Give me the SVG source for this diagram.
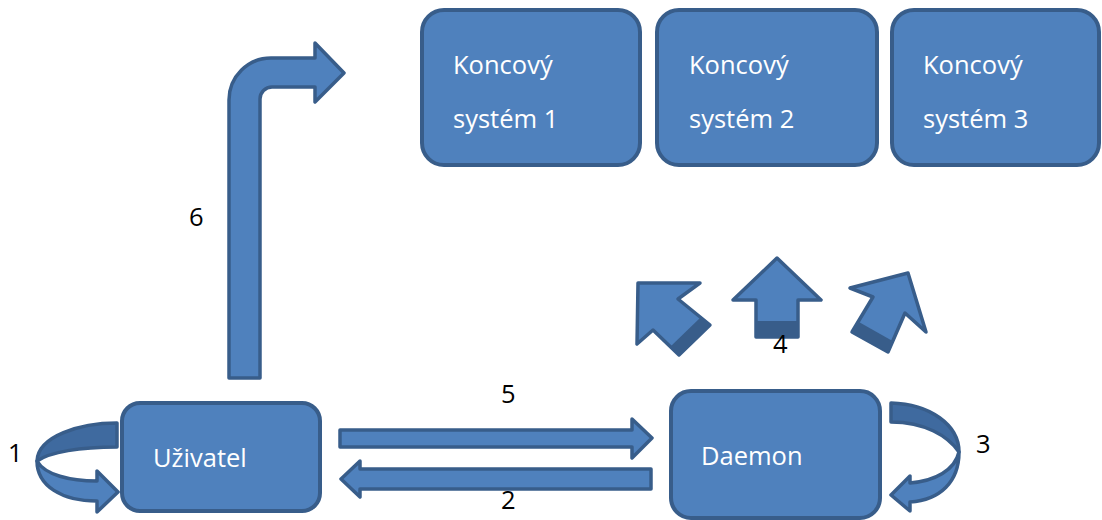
<svg xmlns="http://www.w3.org/2000/svg" width="1102" height="520" viewBox="0 0 1102 520">
  <style>
    .box { fill: #4f81bd; stroke: #385d8a; stroke-width: 4; }
    .arrow { fill: #4f81bd; stroke: #385d8a; stroke-width: 3.5; stroke-linejoin: round; }
    .back { fill: #3f6a9f; stroke: #385d8a; stroke-width: 3.5; stroke-linejoin: round; }
    .depth { fill: #385d8a; }
    .label { font-family: "Open Sans", "Liberation Sans", sans-serif; font-size: 25.5px; fill: #ffffff; }
    .num { font-family: "Open Sans", "Liberation Sans", sans-serif; font-size: 25.5px; fill: #000000; }
  </style>
  <rect width="1102" height="520" fill="#ffffff"/>

  <g id="connectors">
    <!-- 6: bent arrow from Uživatel up towards the end systems -->
    <path class="arrow" d="M229,378 L229,100 A42,42 0 0 1 271,58 L315,58 L315,43 L344,73 L315,102 L315,87 L272,87 A12,12 0 0 0 260,99 L260,378 Z"/>
    <!-- 5: Uživatel to Daemon -->
    <path class="arrow" d="M340,430 L632,430 L632,419 L652,438 L632,458 L632,447 L340,447 Z"/>
    <!-- 2: Daemon back to Uživatel -->
    <path class="arrow" d="M651,469 L360,469 L360,461 L341,479 L360,497 L360,489 L651,489 Z"/>
    <!-- 1: loop on Uživatel -->
    <path class="back" d="M117,423 C80,423 38,436 37,461 C50,452 80,447 117,447 Z"/>
    <path class="arrow" d="M37,461 C37,486 62,501 97,501 L97,512 L118,492 L97,471 L97,481 C70,481 45,475 37,461 Z"/>
    <!-- 3: loop on Daemon -->
    <path class="back" d="M891,403 C930,404 959,425 959,452 C948,436 925,422 891,422 Z"/>
    <path class="arrow" d="M959,452 C959,482 940,500 910,502 L910,511 L891,495 L910,476 L910,483 C935,481 955,470 959,452 Z"/>
    <!-- 4: three arrows from Daemon to the end systems -->
    <polygon class="arrow" points="638,283 700,283 678,299 710,325 679,355 653,330 637,344"/>
    <polygon class="depth" points="710,325 679,355 670.5,346.5 701.5,316.5"/>
    <polygon class="arrow" points="777,258 821,300 798,300 798,337 756,337 756,300 733,300"/>
    <rect class="depth" x="756" y="321" width="42" height="16"/>
    <polygon class="arrow" points="850,288 908,273 926,332 905,313 888,352 852,332 873,297"/>
    <polygon class="depth" points="851.7,331.7 888.3,352.3 893,341.3 858,321.5"/>
  </g>

  <g id="node-koncovy-1">
    <rect class="box" x="422" y="10" width="218" height="155" rx="22"/>
    <text class="label" x="453" y="74">Koncový</text>
    <text class="label" x="453" y="128">systém 1</text>
  </g>
  <g id="node-koncovy-2">
    <rect class="box" x="657" y="10" width="220" height="155" rx="22"/>
    <text class="label" x="689" y="74">Koncový</text>
    <text class="label" x="689" y="128">systém 2</text>
  </g>
  <g id="node-koncovy-3">
    <rect class="box" x="892" y="10" width="207" height="155" rx="22"/>
    <text class="label" x="923" y="74">Koncový</text>
    <text class="label" x="923" y="128">systém 3</text>
  </g>
  <g id="node-uzivatel">
    <rect class="box" x="122" y="403" width="198" height="108" rx="18"/>
    <text class="label" x="153" y="467">Uživatel</text>
  </g>
  <g id="node-daemon">
    <rect class="box" x="671" y="391" width="209" height="127" rx="20"/>
    <text class="label" x="701" y="465">Daemon</text>
  </g>

  <g id="step-numbers">
    <text class="num" x="8" y="462">1</text>
    <text class="num" x="501" y="509">2</text>
    <text class="num" x="976" y="453">3</text>
    <text class="num" x="773" y="353">4</text>
    <text class="num" x="501" y="403">5</text>
    <text class="num" x="189" y="226">6</text>
  </g>
</svg>
